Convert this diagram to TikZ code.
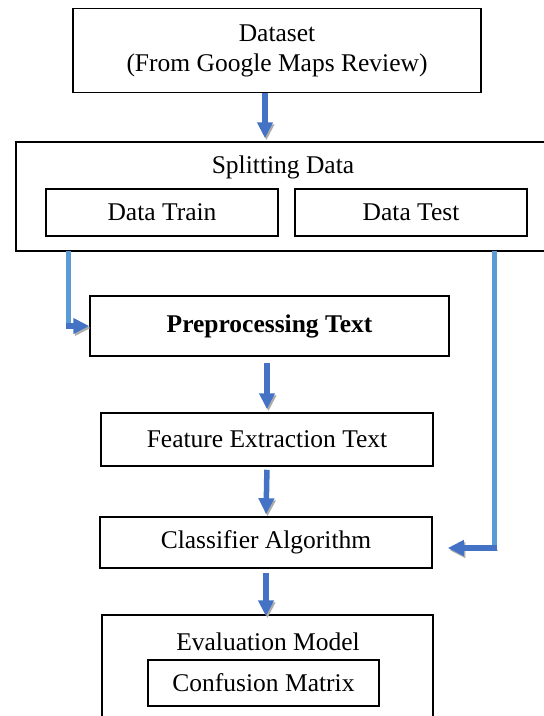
\documentclass[tikz,border=0pt]{standalone}
\usepackage{fontspec}
\setmainfont{Liberation Serif}
\usepackage{xcolor}
\usetikzlibrary{arrows.meta}

\definecolor{flowblue}{RGB}{68,114,196}
\definecolor{lineblue}{RGB}{91,155,213}

\tikzset{
  txt/.style={font=\fontsize{25.5}{30}\selectfont},
  box/.style={txt, draw, rectangle, line width=1.5pt, align=center, inner sep=0pt},
  flow/.style={flowblue, line width=5.5pt, -{Triangle[width=15pt,length=16pt]},
    preaction={draw=gray!65, transform canvas={shift={(1.5pt,-2pt)}}}},
  side/.style={lineblue, line width=5pt}
}

\begin{document}
\begin{tikzpicture}[x=1pt, y=-1pt]
        \useasboundingbox (0, 0) rectangle (544, 716);
        \clip (0, 0) rectangle (544, 716);

        \node at (277, 50.5) [box, minimum width=408pt, minimum height=84pt] (dataset) {Dataset\\(From Google Maps Review)};

        \node at (288, 196.5) [box, minimum width=544pt, minimum height=109pt] (split) {};
        \node at (283, 167) [txt] (splittitle) {Splitting Data};
        \node at (162, 212.5) [box, minimum width=232pt, minimum height=47pt] (train) {Data Train};
        \node at (411, 212.5) [box, minimum width=232pt, minimum height=47pt] (test) {Data Test};

        \node at (269.5, 326) [box, minimum width=359pt, minimum height=60pt, font=\fontsize{25.5}{30}\selectfont\bfseries] (pre) {Preprocessing Text};
        \node at (267, 439.5) [box, minimum width=332pt, minimum height=53pt] (feat) {Feature Extraction Text};
        \node at (266, 542.5) [box, minimum width=332pt, minimum height=51pt] (clf) {Classifier Algorithm};

        \node at (267.5, 677.5) [box, minimum width=331pt, minimum height=125pt] (eval) {};
        \node at (268, 642) [txt] (evaltitle) {Evaluation Model};
        \node at (263.5, 683) [box, minimum width=231pt, minimum height=46pt] (conf) {Confusion Matrix};

        \draw[flow, shorten >= 3pt] ([xshift=-12pt]dataset.south) -- ([xshift=-12pt]dataset.south |- split.north);
        \draw[flow, shorten <= 6pt, shorten >= 3pt] (feat.north |- pre.south) -- (feat.north);
        \draw[flow, shorten <= 3pt, shorten >= 2pt] (feat.south) -- (clf.north);
        \draw[flow, shorten <= 4pt, shorten >= -2pt] (clf.south) -- (clf.south |- eval.north);

        \coordinate (trainout) at (68, 251);
        \draw[side, shorten >= -2.5pt] (trainout) -- (trainout |- pre.west);
        \draw[flow, shorten <= -2.5pt] (trainout |- pre.west) -- (pre.west);

        \coordinate (testout) at (494, 251);
        \coordinate (clfin) at ([xshift=15pt, yshift=-5.5pt]clf.east);
        \draw[side, shorten >= -2.5pt] (testout) -- (testout |- clfin);
        \draw[flow, shorten <= -2.5pt] (testout |- clfin) -- (clfin);
\end{tikzpicture}
\end{document}
